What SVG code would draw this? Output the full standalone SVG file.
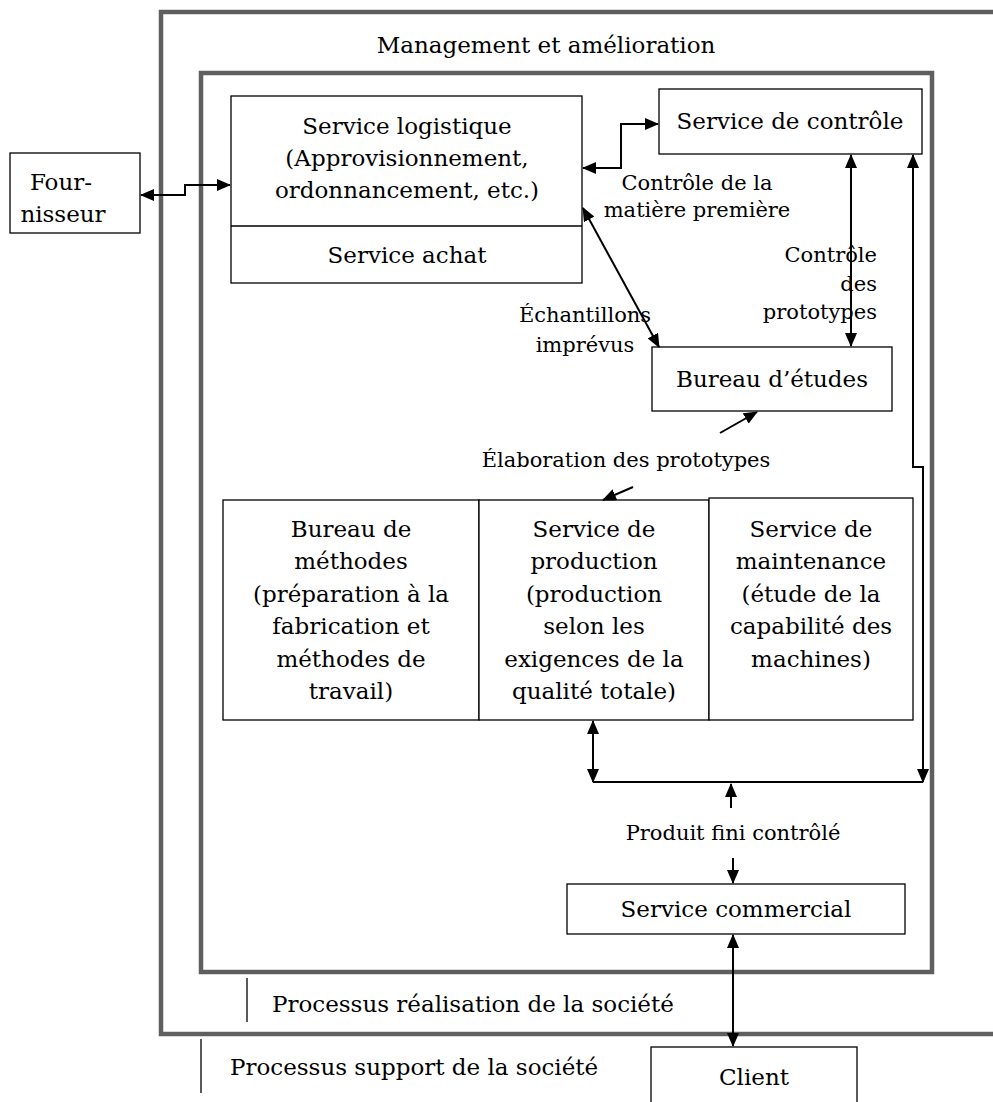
<svg xmlns="http://www.w3.org/2000/svg" width="993" height="1102" viewBox="0 0 993 1102">
<defs>
<marker id="ah" markerUnits="userSpaceOnUse" markerWidth="14" markerHeight="12" refX="13" refY="6" orient="auto-start-reverse" viewBox="0 0 14 12">
<path d="M0,0 L14,6 L0,12 z" fill="#000"/>
</marker>
<style>
.frame{fill:none;stroke:#5f5f5f;stroke-width:4.5}
.box{fill:#fff;stroke:#000;stroke-width:1.3}
.t{font-family:"DejaVu Serif","Liberation Serif",serif;font-size:23px;fill:#000;text-anchor:middle}
.l{font-family:"DejaVu Serif","Liberation Serif",serif;font-size:21px;fill:#000;text-anchor:middle}
.c{fill:none;stroke:#000;stroke-width:2}
.a2{marker-start:url(#ah);marker-end:url(#ah)}
.a1{marker-end:url(#ah)}
.thin{stroke:#000;stroke-width:1.3}
</style>
</defs>
<g id="frames">
<path class="frame" d="M996,12 H161 V1034 H996"/>
<rect class="frame" x="201" y="73" width="731" height="899"/>
<line class="thin" x1="247" y1="978" x2="247" y2="1022"/>
<line class="thin" x1="201" y1="1039" x2="201" y2="1093"/>
<text class="t" x="546" y="53">Management et amélioration</text>
<text class="t" x="272" y="1012" style="text-anchor:start">Processus réalisation de la société</text>
<text class="t" x="230" y="1075" style="text-anchor:start">Processus support de la société</text>
</g>
<g id="fournisseur">
<rect class="box" x="10" y="153" width="130" height="80"/>
<text class="t" x="61" y="190">Four-</text>
<text class="t" x="63" y="222">nisseur</text>
</g>
<g id="logistique">
<rect class="box" x="231" y="96" width="351" height="187"/>
<line class="thin" x1="231" y1="226" x2="582" y2="226"/>
<text class="t" x="407" y="134">Service logistique</text>
<text class="t" x="407" y="166">(Approvisionnement,</text>
<text class="t" x="407" y="198">ordonnancement, etc.)</text>
<text class="t" x="407" y="263">Service achat</text>
</g>
<g id="controle">
<rect class="box" x="659" y="89" width="263" height="65"/>
<text class="t" x="790" y="129">Service de contrôle</text>
</g>
<g id="bureau-etudes">
<rect class="box" x="652" y="347" width="240" height="64"/>
<text class="t" x="772" y="387">Bureau d’études</text>
</g>
<g id="methodes">
<rect class="box" x="223" y="500" width="256" height="220"/>
<text class="t" x="351" y="537">Bureau de</text>
<text class="t" x="351" y="569">méthodes</text>
<text class="t" x="351" y="602">(préparation à la</text>
<text class="t" x="351" y="634">fabrication et</text>
<text class="t" x="351" y="667">méthodes de</text>
<text class="t" x="351" y="699">travail)</text>
</g>
<g id="production">
<rect class="box" x="479" y="500" width="230" height="220"/>
<text class="t" x="594" y="537">Service de</text>
<text class="t" x="594" y="569">production</text>
<text class="t" x="594" y="602">(production</text>
<text class="t" x="594" y="634">selon les</text>
<text class="t" x="594" y="667">exigences de la</text>
<text class="t" x="594" y="699">qualité totale)</text>
</g>
<g id="maintenance">
<rect class="box" x="709" y="498" width="204" height="222"/>
<text class="t" x="811" y="537">Service de</text>
<text class="t" x="811" y="569">maintenance</text>
<text class="t" x="811" y="602">(étude de la</text>
<text class="t" x="811" y="634">capabilité des</text>
<text class="t" x="811" y="667">machines)</text>
</g>
<g id="commercial">
<rect class="box" x="567" y="884" width="338" height="50"/>
<text class="t" x="736" y="917">Service commercial</text>
</g>
<g id="client">
<rect class="box" x="651" y="1047" width="206" height="70"/>
<text class="t" x="754" y="1085">Client</text>
</g>
<g id="connectors">
<path class="c a2" d="M141,195 H185 V185 H230"/>
<path class="c a2" d="M583,168 H621 V124 H658"/>
<path class="c a2" d="M583,208 L659,347"/>
<path class="c a2" d="M851,155 V346"/>
<path class="c a2" d="M913,155 V467 H923 V782"/>
<path class="c a2" d="M593,721 V782"/>
<path class="c" d="M593,782 H923"/>
<path class="c a1" d="M731,808 V784"/>
<path class="c a1" d="M733,858 V883"/>
<path class="c a2" d="M733,935 V1046"/>
<path class="c a1" d="M720,433 L757,412"/>
<path class="c a1" d="M633,487 L603,500"/>
<text class="l" x="697" y="190">Contrôle de la</text>
<text class="l" x="697" y="217">matière première</text>
<text class="l" x="877" y="262" style="text-anchor:end">Contrôle</text>
<text class="l" x="877" y="291" style="text-anchor:end">des</text>
<text class="l" x="877" y="319" style="text-anchor:end">prototypes</text>
<text class="l" x="585" y="322">Échantillons</text>
<text class="l" x="585" y="352">imprévus</text>
<text class="l" x="626" y="467">Élaboration des prototypes</text>
<text class="l" x="733" y="840">Produit fini contrôlé</text>
</g>
</svg>
